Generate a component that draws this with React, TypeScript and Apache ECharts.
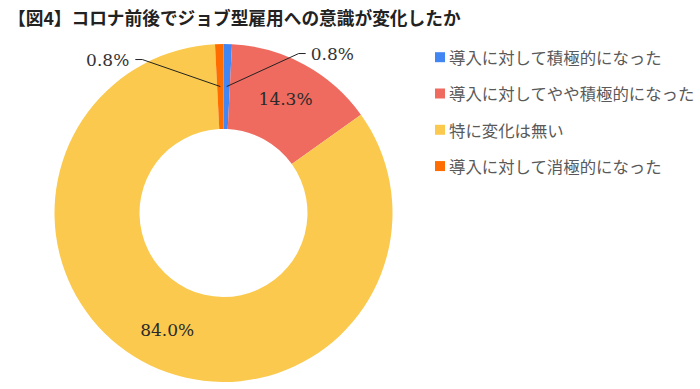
import React, { useEffect, useRef } from 'react';
import * as echarts from 'echarts';

const titleText = '【図4】コロナ前後でジョブ型雇用への意識が変化したか';
const categories = [
  '導入に対して積極的になった',
  '導入に対してやや積極的になった',
  '特に変化は無い',
  '導入に対して消極的になった',
];
const values = [0.8, 14.3, 84.0, 0.8];
const colors = ['#4286F4', '#EF6B60', '#FAC94D', '#FF6D01'];

const CX = 223.5;
const CY = 213;
const R_OUT = 169;
const R_IN = 84;
const R_MID = (R_OUT + R_IN) / 2;
const SMALL = 5;

export default function App() {
  const ref = useRef<HTMLDivElement>(null);
  useEffect(() => {
    document.body.style.margin = '0';
    if (!ref.current) return;
    const chart = echarts.init(ref.current, null, { renderer: 'svg' });
    const total = values.reduce((a, b) => a + b, 0);
    let cum = 0;
    const sides = values.map((v) => {
      const mid = (cum + v / 2) / total;
      cum += v;
      return mid < 0.5 ? 1 : -1;
    });
    const serif = 'DejaVu Serif';
    const fmt = (p: any) => Number(p.value).toFixed(1) + '%';

    chart.setOption({
      animation: false,
      title: {
        text: titleText,
        left: 3,
        top: 2,
        textStyle: {
          fontFamily: 'Noto Sans CJK JP',
          fontWeight: 'bold',
          fontSize: 17.7,
          lineHeight: 20,
          color: '#222',
        },
      },
      legend: {
        orient: 'vertical',
        left: 430,
        top: 44,
        itemWidth: 10,
        itemHeight: 10,
        itemGap: 19.9,
        itemStyle: { borderWidth: 0 },
        icon: 'rect',
        data: categories,
        textStyle: {
          fontFamily: 'Noto Sans CJK JP',
          fontSize: 16.4,
          lineHeight: 16,
          color: '#595959',
          padding: [0, 0, 0, -1],
        },
      },
      color: colors,
      series: [
        {
          type: 'pie',
          z: 2,
          center: [CX, CY],
          radius: [R_IN, R_OUT],
          startAngle: 90,
          clockwise: true,
          avoidLabelOverlap: false,
          emphasis: { disabled: true },
          labelLine: { show: false },
          data: categories.map((c, i) => ({
            name: c,
            value: values[i],
            label: {
              show: values[i] >= SMALL,
              position: 'inside',
              formatter: fmt,
              fontFamily: serif,
              fontSize: 17,
              color: '#2a2a2a',
            },
          })),
        },
        {
          type: 'pie',
          z: 6,
          center: [CX, CY],
          radius: [0, R_MID],
          startAngle: 90,
          clockwise: true,
          silent: true,
          avoidLabelOverlap: false,
          emphasis: { disabled: true },
          itemStyle: { color: 'rgba(0,0,0,0)' },
          labelLine: {
            show: true,
            length: 10,
            length2: 10,
            lineStyle: { color: '#222', width: 1 },
          },
          labelLayout: (params: any) => {
            const i = params.dataIndex;
            if (values[i] >= SMALL) return {};
            const pts = params.labelLinePoints;
            if (!pts || !pts[0]) return {};
            const p0 = pts[0];
            const s = sides[i];
            if (s > 0) {
              return {
                x: p0[0] + 84,
                y: p0[1] - 33,
                align: 'left',
                verticalAlign: 'middle',
                labelLinePoints: [
                  [p0[0], p0[1]],
                  [p0[0] + 72, p0[1] - 33],
                  [p0[0] + 79, p0[1] - 33],
                ],
              };
            }
            return {
              x: p0[0] - 91,
              y: p0[1] - 27,
              align: 'right',
              verticalAlign: 'middle',
              labelLinePoints: [
                [p0[0], p0[1]],
                [p0[0] - 78, p0[1] - 27],
                [p0[0] - 85, p0[1] - 27],
              ],
            };
          },
          data: categories.map((c, i) => ({
            name: c + ' ',
            value: values[i],
            label: {
              show: values[i] < SMALL,
              position: 'outside',
              formatter: fmt,
              fontFamily: serif,
              fontSize: 17,
              color: '#333',
            },
            labelLine: { show: values[i] < SMALL },
          })),
        },
      ],
    });
    return () => chart.dispose();
  }, []);
  return <div ref={ref} style={{ width: 700, height: 389 }} />;
}
